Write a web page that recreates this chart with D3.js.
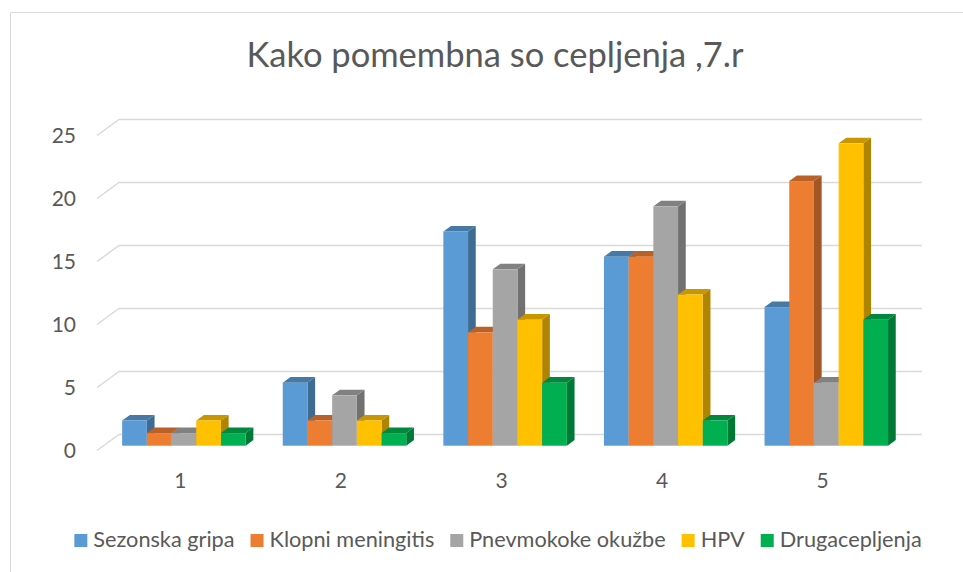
<!DOCTYPE html>
<html>
<head>
<meta charset="utf-8">
<script src="https://cdn.jsdelivr.net/npm/d3@7"></script>
<style>
  html, body { margin: 0; padding: 0; background: #fff; }
  svg { display: block; }
  text { font-family: Lato, "Open Sans", sans-serif; fill: #595959; }
</style>
</head>
<body>
<svg id="chart"></svg>
<script>
// data
const categories = ["1", "2", "3", "4", "5"];
const seriesNames = ["Sezonska gripa", "Klopni meningitis", "Pnevmokoke okužbe", "HPV", "Drugacepljenja"];
const seriesColors = ["#5b9bd5", "#ed7d31", "#a5a5a5", "#ffc000", "#00b050"];
const sezonskaGripa = [2, 5, 17, 15, 11];
const klopniMeningitis = [1, 2, 9, 15, 21];
const pnevmokokeOkuzbe = [1, 4, 14, 19, 5];
const hpv = [2, 2, 10, 12, 24];
const drugaCepljenja = [1, 1, 5, 2, 10];
const yTicks = [0, 5, 10, 15, 20, 25];
const title = "Kako pomembna so cepljenja ,7.r";

const series = [sezonskaGripa, klopniMeningitis, pnevmokokeOkuzbe, hpv, drugaCepljenja];

const W = 963, H = 572;
const DEPTH_X = 22, DEPTH_Y = -16;   // offset of the back wall from the front floor edge
const BAR_FRONT = 0.3, BAR_BACK = 0.65;

const svg = d3.select("#chart").attr("width", W).attr("height", H);

// chart frame (only left and top edges are in view)
svg.append("path")
  .attr("d", "M10.5,572 L10.5,12.5 L963,12.5")
  .attr("fill", "none")
  .attr("stroke", "#d9d9d9")
  .attr("stroke-width", 1);

// title
svg.append("text")
  .attr("x", 495)
  .attr("y", 67)
  .attr("text-anchor", "middle")
  .style("font-size", "34.5px")
  .text(title);

// scales on the front floor edge
const y = d3.scaleLinear().domain([0, 25]).range([450.5, 135.5]);
const x = d3.scaleBand().domain(categories).range([97, 900]);
const groupWidth = 123.5;
const xSub = d3.scaleBand().domain(seriesNames).range([0, groupWidth]);

// gridlines: diagonal on the floor side, then along the back wall
svg.append("g").attr("class", "grid")
  .selectAll("path")
  .data(yTicks)
  .enter()
  .append("path")
  .attr("d", d => {
    let y0 = y(d);
    return "M97," + y0 + " L" + (97 + DEPTH_X) + "," + (y0 + DEPTH_Y) + " L922," + (y0 + DEPTH_Y);
  })
  .attr("fill", "none")
  .attr("stroke", "#d9d9d9")
  .attr("stroke-width", 1.5);

// y axis labels
let yAxis = svg.append("g")
  .attr("transform", "translate(76,0)")
  .call(d3.axisLeft(y).tickValues(yTicks).tickSize(0).tickPadding(0));
yAxis.select(".domain").remove();
yAxis.selectAll("text")
  .style("font-size", "21px")
  .style("font-family", "Lato, 'Open Sans', sans-serif")
  .attr("fill", "#595959");

// x axis labels
let xAxis = svg.append("g")
  .attr("transform", "translate(3,0)")
  .call(d3.axisBottom(x).tickSize(0).tickPadding(0));
xAxis.select(".domain").remove();
xAxis.selectAll("text")
  .attr("y", 488)
  .attr("dy", 0)
  .style("font-size", "21px")
  .style("font-family", "Lato, 'Open Sans', sans-serif")
  .attr("fill", "#595959");

// bars, drawn left to right so the next front face hides the previous side
let bars = [];
categories.forEach((c, ci) => {
  seriesNames.forEach((s, si) => {
    bars.push({ cat: c, name: s, value: series[si][ci], color: seriesColors[si] });
  });
});

let fx = DEPTH_X * BAR_FRONT, fy = DEPTH_Y * BAR_FRONT;
let dx = DEPTH_X * (BAR_BACK - BAR_FRONT), dy = DEPTH_Y * (BAR_BACK - BAR_FRONT);

svg.append("g").attr("class", "bars")
  .selectAll("g")
  .data(bars)
  .enter()
  .append("g")
  .each(function(d) {
    let g = d3.select(this);
    let x0 = x(d.cat) + (x.bandwidth() - groupWidth) / 2 + xSub(d.name) + fx;
    let x1 = x0 + xSub.bandwidth();
    let yb = y(0) + fy;
    let yt = y(d.value) + fy;
    let base = d3.color(d.color);

    // side face
    g.append("path")
      .attr("d", "M" + x1 + "," + yb + " L" + (x1 + dx) + "," + (yb + dy) +
        " L" + (x1 + dx) + "," + (yt + dy) + " L" + x1 + "," + yt + "Z")
      .attr("fill", base.darker(1.05));
    // top face
    g.append("path")
      .attr("d", "M" + x0 + "," + yt + " L" + (x0 + dx) + "," + (yt + dy) +
        " L" + (x1 + dx) + "," + (yt + dy) + " L" + x1 + "," + yt + "Z")
      .attr("fill", base.darker(0.7));
    // front face
    g.append("rect")
      .attr("x", x0)
      .attr("y", yt)
      .attr("width", xSub.bandwidth())
      .attr("height", yb - yt)
      .attr("fill", d.color);
  });

// legend, centred under the plot
let legend = svg.append("g").attr("class", "legend");
let items = legend.selectAll("g")
  .data(seriesNames)
  .enter()
  .append("g");

items.append("rect")
  .attr("width", 13)
  .attr("height", 13)
  .attr("y", 534)
  .attr("fill", (d, i) => seriesColors[i]);

items.append("text")
  .attr("x", 19)
  .attr("y", 547)
  .style("font-size", "21.7px")
  .text(d => d);

let widths = [];
items.selectAll("text").each(function() { widths.push(this.getComputedTextLength()); });
let gap = 16;
let total = d3.sum(widths) + widths.length * 19 + (widths.length - 1) * gap;
let cursor = 498 - total / 2;
items.attr("transform", (d, i) => {
  let t = "translate(" + cursor + ",0)";
  cursor += 19 + widths[i] + gap;
  return t;
});
</script>
</body>
</html>
